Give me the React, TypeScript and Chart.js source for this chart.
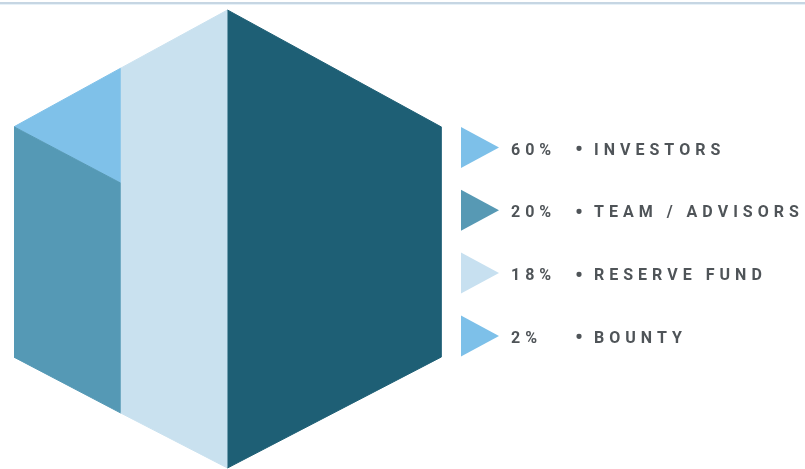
import React, { useEffect, useRef } from "react";
import { Chart, registerables } from "chart.js";

Chart.register(...registerables);

// ---- Legend data ----
const categories = ["INVESTORS", "TEAM / ADVISORS", "RESERVE FUND", "BOUNTY"];
const shares = [60, 20, 18, 2];
const legendColors = ["#7dc0e9", "#5799b4", "#c7e0f0", "#7dc0e9"];

// ---- Hexagon (cube) faces, in chart units (x: 0..100 across, y: 0..100 bottom to top) ----
const rightFaceX = [50, 100, 100, 50];
const rightFaceY = [100, 74.5, 24.2, 0];

const middleFaceX = [25, 50, 50, 25];
const middleFaceY = [87.3, 100, 0, 12.0];

const leftFaceX = [0, 25, 25, 0];
const leftFaceY = [74.5, 62.2, 12.0, 24.2];

const topFaceX = [0, 25, 25];
const topFaceY = [74.5, 87.3, 62.2];

const faceColors = ["#1e5f75", "#c9e1ef", "#5599b5", "#7fc1e9"];

const toPoints = (xs: number[], ys: number[]) => xs.map((x, i) => ({ x, y: ys[i] }));

const legendPlugin = {
  id: "customLegend",
  afterDraw(chart: any) {
    const ctx: CanvasRenderingContext2D = chart.ctx;
    ctx.save();
    // top rule
    ctx.fillStyle = "#c6d6e3";
    ctx.fillRect(0, 2, chart.width, 2);
    ctx.fillStyle = "#e6f1f8";
    ctx.fillRect(0, 4, chart.width, 1);

    const spacing = 5.0;
    const drawSpaced = (text: string, x: number, y: number) => {
      let cx = x;
      for (const ch of text) {
        ctx.fillText(ch, cx, y);
        cx += ctx.measureText(ch).width + spacing;
      }
    };
    categories.forEach((cat, i) => {
      const cy = 147.5 + i * 62.8;
      // triangle marker
      ctx.fillStyle = legendColors[i];
      ctx.beginPath();
      ctx.moveTo(461, cy - 20.5);
      ctx.lineTo(499, cy);
      ctx.lineTo(461, cy + 20.5);
      ctx.closePath();
      ctx.fill();
      // text
      ctx.fillStyle = "#4f5458";
      ctx.textBaseline = "alphabetic";
      ctx.textAlign = "left";
      const base = cy + 7;
      ctx.font = "bold 16px Roboto";
      drawSpaced(shares[i] + "%", 511, base);
      drawSpaced(cat, 594, base);
      ctx.font = "bold 22px Roboto";
      ctx.fillText("\u2022", 575, base + 1.5);
    });
    ctx.restore();
  },
};

export default function App() {
  const ref = useRef<HTMLCanvasElement | null>(null);
  useEffect(() => {
    document.body.style.margin = "0";
    const faces = [
      toPoints(rightFaceX, rightFaceY),
      toPoints(middleFaceX, middleFaceY),
      toPoints(leftFaceX, leftFaceY),
      toPoints(topFaceX, topFaceY),
    ];
    const chart = new Chart(ref.current as HTMLCanvasElement, {
      type: "scatter",
      data: {
        datasets: faces.map((pts, i) => ({
          data: pts,
          showLine: true,
          fill: "shape",
          backgroundColor: faceColors[i],
          borderColor: faceColors[i],
          borderWidth: 1,
          pointRadius: 0,
          tension: 0,
          order: i,
        })) as any,
      },
      options: {
        animation: false,
        responsive: false,
        maintainAspectRatio: false,
        layout: { padding: 0 },
        plugins: {
          legend: { display: false },
          tooltip: { enabled: false },
        },
        scales: {
          x: { type: "linear", display: false, min: -3.279, max: 185.25 },
          y: { type: "linear", display: false, min: -0.218, max: 102.18 },
        },
      },
      plugins: [legendPlugin],
    });
    return () => chart.destroy();
  }, []);
  return (
    <div style={{ width: 805, height: 469, background: "#ffffff" }}>
      <canvas ref={ref} width={805} height={469} style={{ display: "block" }} />
    </div>
  );
}
